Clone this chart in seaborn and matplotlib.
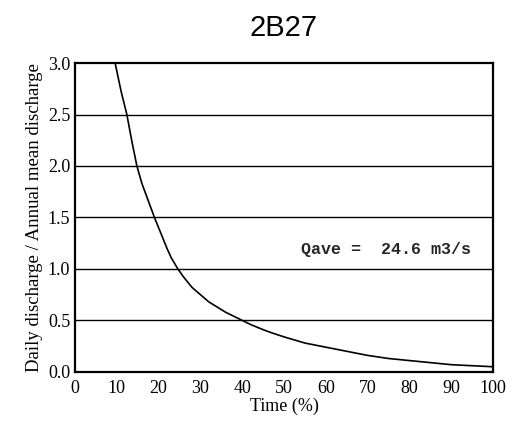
import matplotlib
matplotlib.use("Agg")
import matplotlib.pyplot as plt
import seaborn as sns
import pandas as pd

# Flow duration curve
time_pct = [9.6, 11.0, 12.4, 13.6, 14.8, 16, 17, 18, 19, 20.5, 22, 23, 24.6,
            26, 28, 30, 32, 34, 36, 38, 40, 42, 45, 47, 50, 55, 60, 65,
            70, 75, 80, 85, 90, 95, 100]
ratio = [3.0, 2.73, 2.5, 2.24, 2.0, 1.83, 1.72, 1.61, 1.5, 1.35, 1.2, 1.11,
         1.0, 0.92, 0.82, 0.75, 0.68, 0.63, 0.58, 0.54, 0.5, 0.46, 0.41,
         0.38, 0.34, 0.28, 0.24, 0.2, 0.16, 0.13, 0.11, 0.09, 0.07, 0.06, 0.05]
x_ticks = [0, 10, 20, 30, 40, 50, 60, 70, 80, 90, 100]
y_ticks = [0.0, 0.5, 1.0, 1.5, 2.0, 2.5, 3.0]
station = "2B27"
q_ave = "Qave =  24.6 m3/s"

df = pd.DataFrame({"time": time_pct, "ratio": ratio})

sns.set_style("white")
plt.rcParams["font.family"] = ["Liberation Serif", "DejaVu Serif"]

fig = plt.figure(figsize=(5.3, 4.26), dpi=100)
ax = fig.add_axes([0.1415, 0.127, 0.789, 0.725])

# horizontal grid lines drawn as in the scan
for y in y_ticks[1:-1]:
    ax.axhline(y, color="black", lw=1.0, zorder=1)

sns.lineplot(data=df, x="time", y="ratio", sort=False, color="black",
             lw=1.2, ax=ax, zorder=2)

ax.set_xlim(0, 100)
ax.set_ylim(0, 3.0)
ax.set_xticks(x_ticks)
ax.set_yticks(y_ticks)
ax.set_yticklabels([f"{v:.1f}" for v in y_ticks])
ax.tick_params(direction="in", length=3, width=1, labelsize=13, colors="black")
ax.tick_params(axis="x", pad=6)
for s in ax.spines.values():
    s.set_color("black")
    s.set_linewidth(1.6)

ax.set_xlabel("Time (%)", fontsize=13, labelpad=0, color="black")
ax.set_ylabel("Daily discharge / Annual mean discharge", fontsize=13.5,
              labelpad=3, color="black")

ax.text(54, 1.19, q_ave, family="Liberation Mono", fontsize=12,
        weight="bold", va="center", ha="left")

fig.text(0.535, 0.935, station, family=["Liberation Sans", "DejaVu Sans"],
         fontsize=21, ha="center", va="center", color="black")

fig.savefig("out.png", dpi=100)
